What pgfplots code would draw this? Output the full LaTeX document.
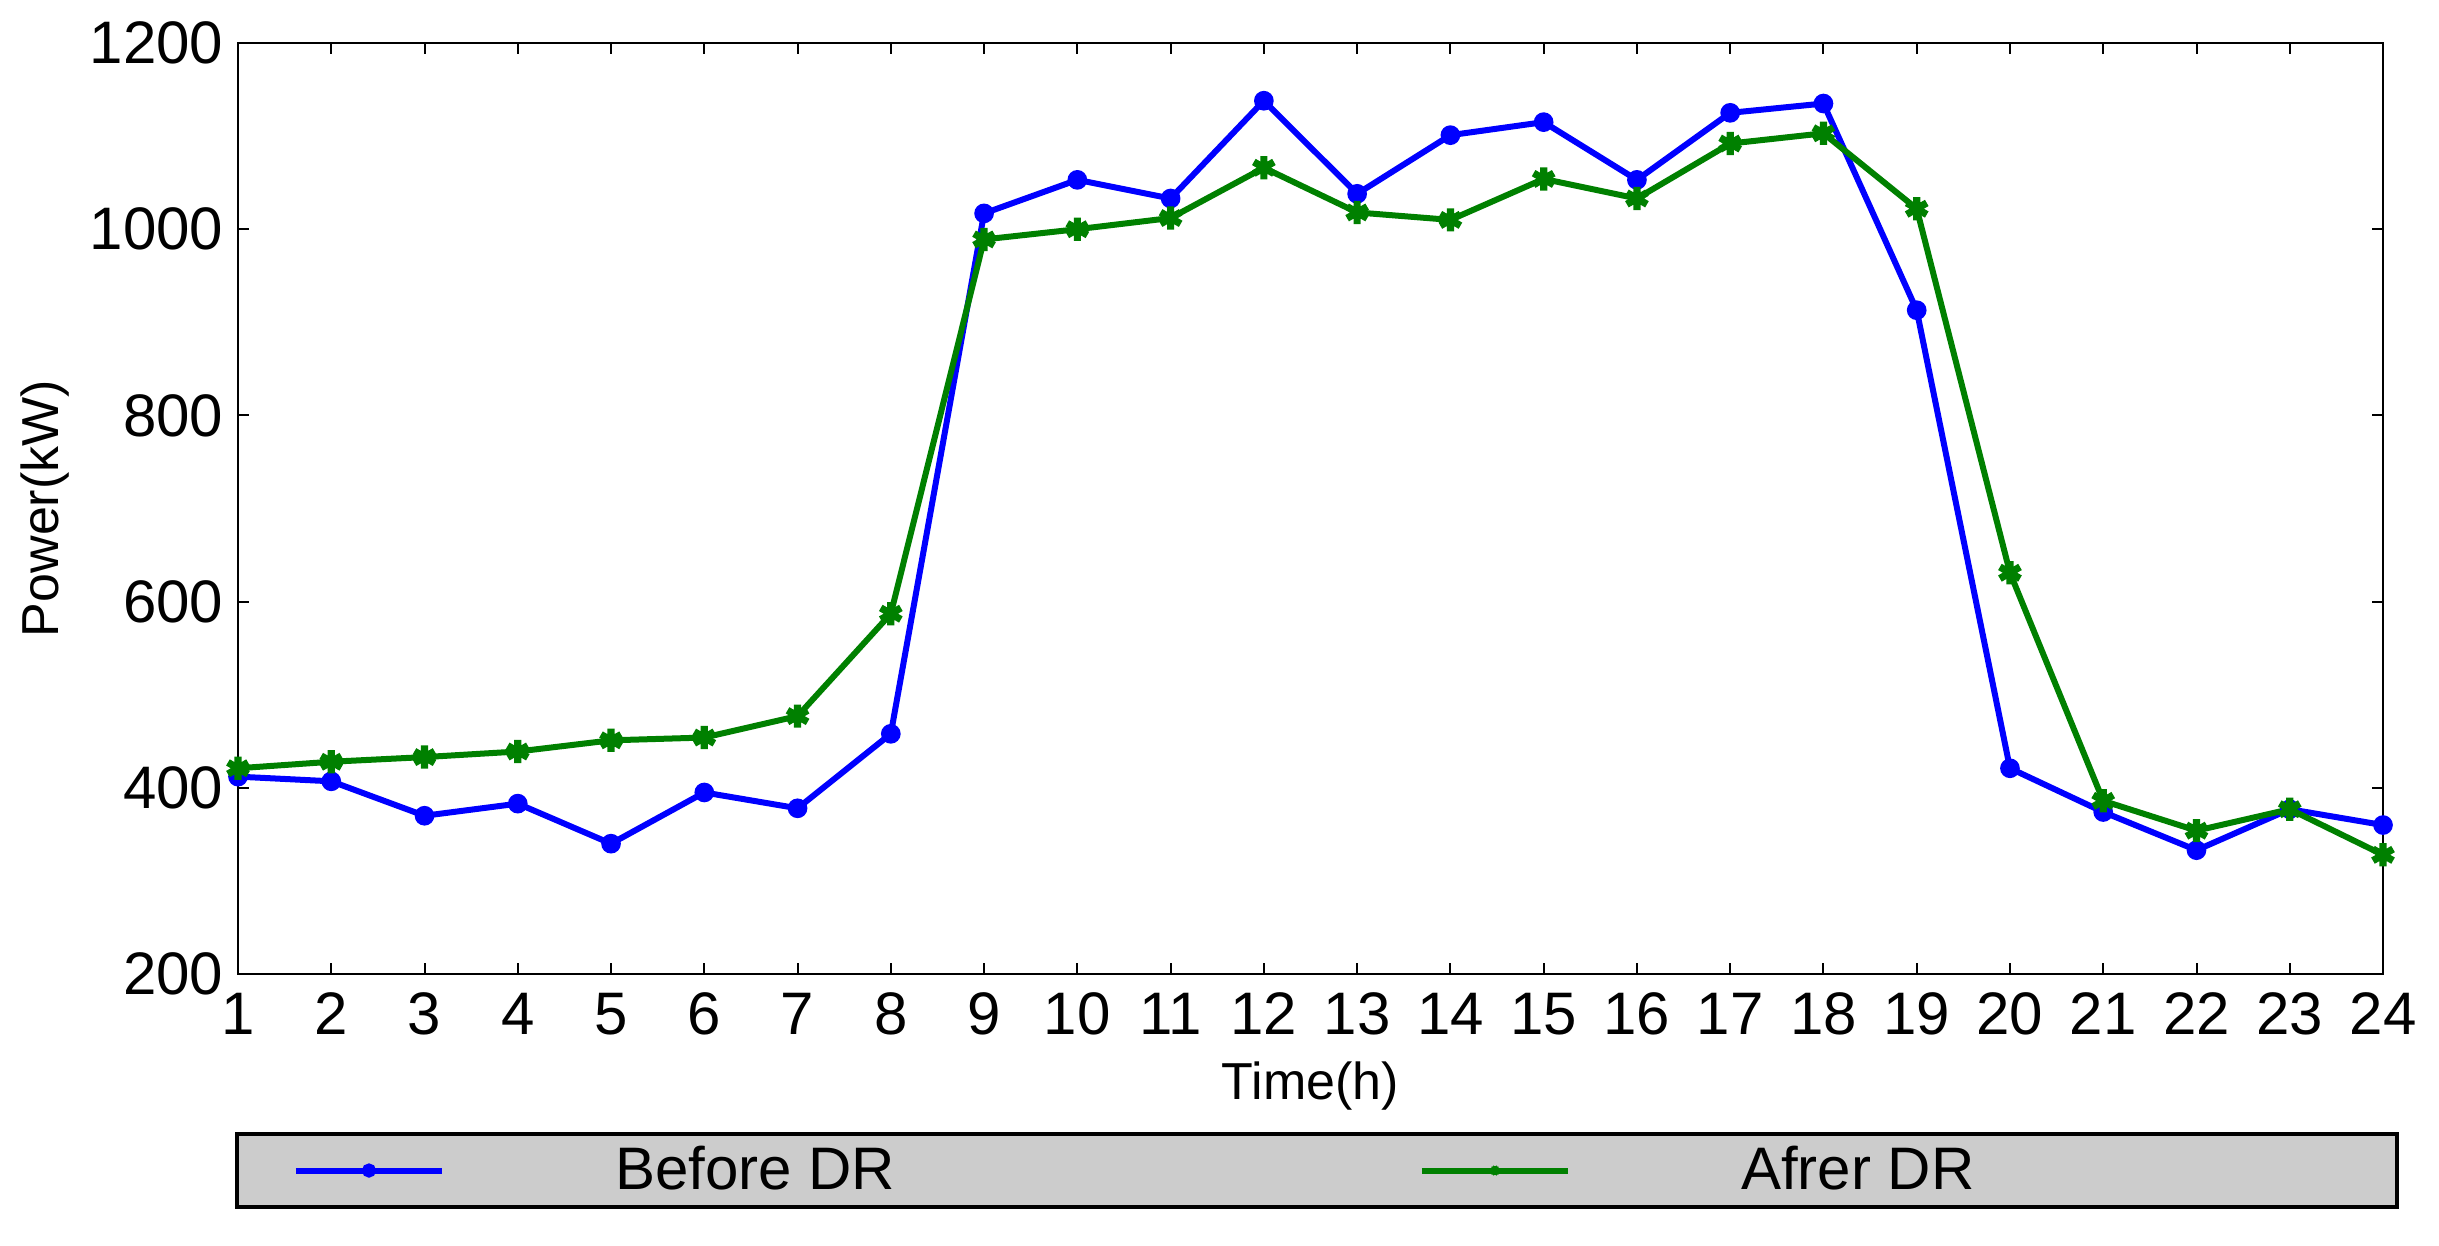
\documentclass[border=0pt]{standalone}
\usepackage{fontspec}
\setmainfont{Liberation Sans}
\usepackage{pgfplots}
\pgfplotsset{compat=1.18}

\definecolor{mblue}{RGB}{0,0,255}
\definecolor{mgreen}{RGB}{0,128,0}
\definecolor{lgrey}{RGB}{204,204,204}

\begin{document}
\begin{tikzpicture}
\path[use as bounding box] (-59.5pt,-67.75pt) rectangle (550.25pt,243.5pt);
\begin{axis}[
    scale only axis,
    width=536.25pt, height=232.75pt,
    xmin=1, xmax=24, ymin=200, ymax=1200,
    xtick={1,2,...,24},
    ytick={200,400,...,1200},
    tick align=inside,
    major tick length=2.8pt,
    axis line style={line width=0.6pt},
    tick style={line width=0.5pt, black},
    clip=false,
    /pgf/number format/assume math mode=true,
    /pgf/number format/1000 sep={},
    tick label style={font=\fontsize{15}{17}\selectfont},
    xticklabel style={inner ysep=4.5pt},
    yticklabel style={inner xsep=3.5pt},
    label style={font=\fontsize{13}{15}\selectfont},
    xlabel={Time(h)},
    ylabel={Power(kW)},
    xlabel style={at={(axis description cs:0.5,0)}, anchor=center, yshift=-28pt},
    ylabel style={at={(axis description cs:-0.09,0.5)}, anchor=center},
    legend columns=2,
    legend style={
        at={(axis description cs:0,0)}, anchor=north west,
        yshift=-39.5pt, xshift=-0.75pt,
        fill=lgrey, draw=black, line width=0.9pt,
        inner xsep=14pt, inner ysep=3pt,
        nodes={inner sep=0pt},
        font=\fontsize{15}{17}\selectfont,
        /tikz/every odd column/.append style={column sep=42.5pt},
    },
    legend image code/.code={
        \draw[#1, mark=none] (0pt,0pt) -- (36.6pt,0pt);
        \draw[#1, only marks, mark size=1pt] plot coordinates {(18.3pt,0pt)};
    },
]
\addplot[color=mblue, line width=1.5pt, mark=*, mark size=1.7pt, mark options={solid}]
coordinates {
(1,412) (2,407) (3,370) (4,383) (5,340) (6,395) (7,378) (8,458)
(9,1017) (10,1053) (11,1033) (12,1138) (13,1038) (14,1101) (15,1115) (16,1053)
(17,1125) (18,1135) (19,913) (20,421) (21,374) (22,333) (23,377) (24,360)
};
\addlegendentry{\makebox[200.9pt][l]{Before DR}}
\addplot[color=mgreen, line width=1.5pt, mark=asterisk, mark size=2.9pt, mark options={solid, line width=1.8pt}]
coordinates {
(1,421) (2,428) (3,433) (4,439) (5,451) (6,454) (7,477) (8,587)
(9,989) (10,1000) (11,1012) (12,1066) (13,1018) (14,1010) (15,1054) (16,1033)
(17,1092) (18,1103) (19,1022) (20,631) (21,386) (22,354) (23,377) (24,328)
};
\addlegendentry{\makebox[150pt][l]{Afrer DR}}
\end{axis}
\end{tikzpicture}
\end{document}
